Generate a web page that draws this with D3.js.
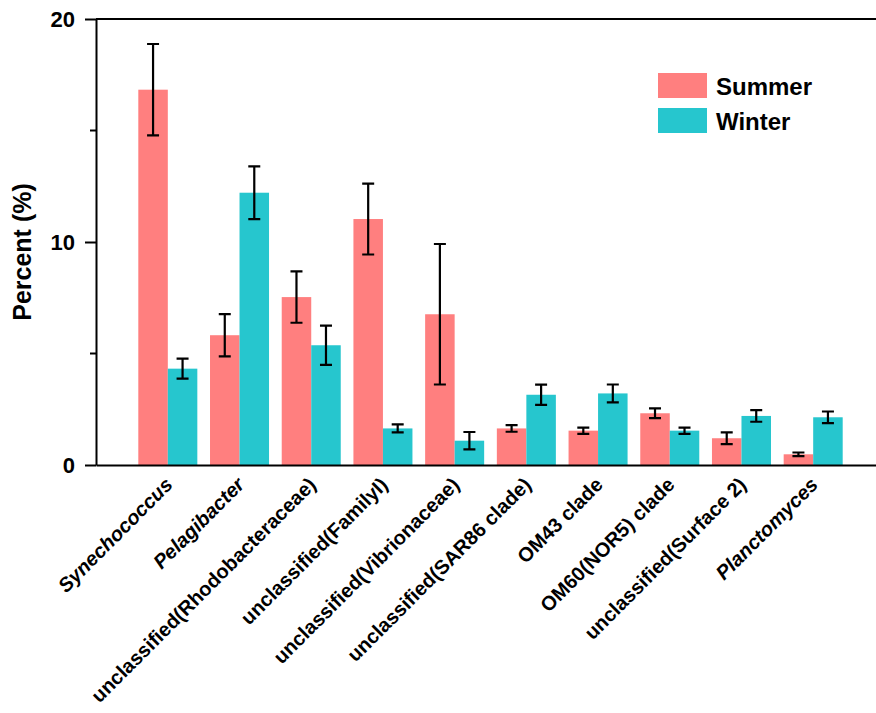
<!DOCTYPE html>
<meta charset="utf-8">
<style>
body { margin: 0; background: #fff; }
.axis text { font: bold 22px "Liberation Sans", Arial, sans-serif; fill: #000; }
.axis path, .axis line { stroke: #000; stroke-width: 2px; }
.xlab { font: bold 20px "Liberation Sans", Arial, sans-serif; fill: #000; }
.legend text { font: bold 24px "Liberation Sans", Arial, sans-serif; fill: #000; }
.err { stroke: #000; stroke-width: 2.2px; fill: none; }
</style>
<svg class="chart" width="876" height="713"></svg>
<script src="https://cdnjs.cloudflare.com/ajax/libs/d3/7.8.5/d3.min.js"></script>
<script>
var categories = ["Synechococcus", "Pelagibacter", "unclassified(Rhodobacteraceae)",
  "unclassified(FamilyI)", "unclassified(Vibrionaceae)", "unclassified(SAR86 clade)",
  "OM43 clade", "OM60(NOR5) clade", "unclassified(Surface 2)", "Planctomyces"];
var italicNames = ["Synechococcus", "Pelagibacter", "Planctomyces"];
var series = ["Summer", "Winter"];
var summer = [16.83, 5.82, 7.53, 11.03, 6.76, 1.64, 1.54, 2.32, 1.20, 0.48];
var summerErr = [2.05, 0.95, 1.15, 1.59, 3.15, 0.15, 0.14, 0.22, 0.26, 0.08];
var winter = [4.32, 12.21, 5.37, 1.64, 1.09, 3.15, 3.21, 1.54, 2.20, 2.14];
var winterErr = [0.45, 1.18, 0.88, 0.18, 0.39, 0.45, 0.40, 0.14, 0.26, 0.26];
var yTicks = [0, 10, 20];
var yMinor = [5, 15];

var colors = {Summer: "#ff7f7f", Winter: "#26c6ce"};

var svg = d3.select(".chart");

var x = d3.scaleBand()
  .domain(categories)
  .range([96, 885])
  .paddingInner(0.177)
  .paddingOuter(0.59);

var xs = d3.scaleBand()
  .domain(series)
  .range([0, x.bandwidth()]);

var y = d3.scaleLinear()
  .domain([0, 20])
  .range([465, 19]);

var rows = categories.map(function(c, i) {
  return [
    {cat: c, s: "Summer", v: summer[i], e: summerErr[i]},
    {cat: c, s: "Winter", v: winter[i], e: winterErr[i]}
  ];
});
var flat = [].concat.apply([], rows);

// bars
svg.append("g").selectAll("rect")
  .data(flat)
  .enter().append("rect")
  .attr("x", function(d) { return x(d.cat) + xs(d.s); })
  .attr("y", function(d) { return y(d.v); })
  .attr("width", xs.bandwidth())
  .attr("height", function(d) { return y(0) - y(d.v); })
  .attr("fill", function(d) { return colors[d.s]; });

// error bars
var eg = svg.append("g").selectAll("g")
  .data(flat)
  .enter().append("g")
  .attr("class", "err");
var cap = 6;
eg.append("path")
  .attr("d", function(d) {
    var cx = x(d.cat) + xs(d.s) + xs.bandwidth() / 2;
    var t = y(d.v + d.e), b = y(d.v - d.e);
    return "M" + cx + "," + t + "V" + b +
      "M" + (cx - cap) + "," + t + "H" + (cx + cap) +
      "M" + (cx - cap) + "," + b + "H" + (cx + cap);
  });

// axes
svg.append("g")
  .attr("class", "axis")
  .attr("transform", "translate(96,0)")
  .call(d3.axisLeft(y).tickValues(yTicks).tickSize(11).tickSizeOuter(0).tickPadding(10))
  .call(function(g) {
    g.selectAll(".minor").data(yMinor).enter().append("line")
      .attr("class", "minor")
      .attr("x1", -6).attr("x2", 0)
      .attr("y1", function(d) { return y(d); })
      .attr("y2", function(d) { return y(d); });
  });

svg.append("g")
  .attr("class", "axis")
  .attr("transform", "translate(0," + y(0) + ")")
  .call(d3.axisBottom(x).tickSize(0).tickSizeOuter(0).tickFormat(""));

// top frame line
svg.append("line")
  .attr("x1", 96).attr("x2", 876)
  .attr("y1", y(20)).attr("y2", y(20))
  .attr("stroke", "#000").attr("stroke-width", 2);

// x labels
svg.append("g").selectAll("text")
  .data(categories)
  .enter().append("text")
  .attr("class", "xlab")
  .attr("text-anchor", "end")
  .attr("transform", function(d) {
    var cx = x(d) + x.bandwidth() / 2 + 6;
    return "translate(" + cx + ",486) rotate(-45)";
  })
  .style("font-style", function(d) { return italicNames.indexOf(d) >= 0 ? "italic" : "normal"; })
  .text(function(d) { return d; });

// y title
svg.append("text")
  .attr("transform", "translate(31,252) rotate(-90)")
  .attr("text-anchor", "middle")
  .style("font", "bold 25px 'Liberation Sans', Arial, sans-serif")
  .text("Percent (%)");

// legend
var lg = svg.append("g").attr("class", "legend")
  .selectAll("g").data(series).enter().append("g")
  .attr("transform", function(d, i) { return "translate(658," + (73 + i * 35) + ")"; });
lg.append("rect")
  .attr("width", 49).attr("height", 25)
  .attr("fill", function(d) { return colors[d]; });
lg.append("text")
  .attr("x", 58).attr("y", 22)
  .text(function(d) { return d; });
</script>
